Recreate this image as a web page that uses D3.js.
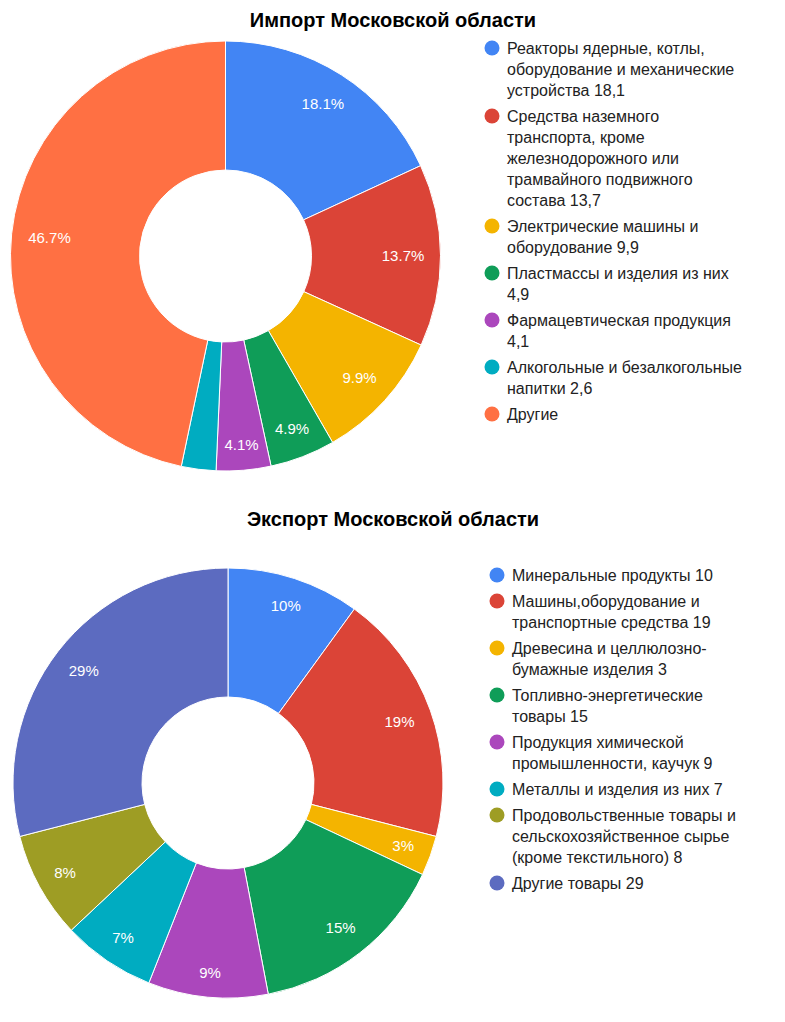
<!DOCTYPE html>
<html>
<head>
<meta charset="utf-8">
<script src="https://cdn.jsdelivr.net/npm/d3@7"></script>
<style>
  body { margin: 0; background: white; }
  text { font-family: Arial, "Liberation Sans", sans-serif; }
</style>
</head>
<body>
<div id="viz_area"></div>
<script>
var width = 785
var height = 1022

// data
var importTitle = "Импорт Московской области"
var importCategories = [
  "Реакторы ядерные, котлы, оборудование и механические устройства 18,1",
  "Средства наземного транспорта, кроме железнодорожного или трамвайного подвижного состава 13,7",
  "Электрические машины и оборудование 9,9",
  "Пластмассы и изделия из них 4,9",
  "Фармацевтическая продукция 4,1",
  "Алкогольные и безалкогольные напитки 2,6",
  "Другие"
]
var importValues = [18.1, 13.7, 9.9, 4.9, 4.1, 2.6, 46.7]
var importColors = ["#4285F4", "#DB4437", "#F4B400", "#0F9D58", "#AB47BC", "#00ACC1", "#FF7043"]

var exportTitle = "Экспорт Московской области"
var exportCategories = [
  "Минеральные продукты 10",
  "Машины,оборудование и транспортные средства 19",
  "Древесина и целлюлозно-бумажные изделия 3",
  "Топливно-энергетические товары 15",
  "Продукция химической промышленности, каучук 9",
  "Металлы и изделия из них 7",
  "Продовольственные товары и сельскохозяйственное сырье (кроме текстильного) 8",
  "Другие товары 29"
]
var exportValues = [10, 19, 3, 15, 9, 7, 8, 29]
var exportColors = ["#4285F4", "#DB4437", "#F4B400", "#0F9D58", "#AB47BC", "#00ACC1", "#9E9D24", "#5C6BC0"]

var svg = d3.select("#viz_area")
  .append("svg")
  .attr("width", width)
  .attr("height", height)
  .style("background-color", "white");

var pctFormat = d3.format(".1~f")

// split a label into lines no wider than maxW (breaks at spaces and after hyphens)
function wrapLines(measure, label, maxW) {
  let s = label.replace(/-/g, "-\u0000")
  let words = s.split(/ |\u0000/)
  let seps = []
  let re = / |\u0000/g, m
  while ((m = re.exec(s)) !== null) seps.push(m[0] == " " ? " " : "")
  let lines = [], cur = words[0]
  for (let i = 1; i < words.length; i++) {
    let test = cur + seps[i - 1] + words[i]
    measure.text(test)
    if (measure.node().getComputedTextLength() > maxW) {
      lines.push(cur)
      cur = words[i]
    } else {
      cur = test
    }
  }
  lines.push(cur)
  return lines
}

// is the point inside the slice angle range?
function inSlice(x, y, d) {
  let a = Math.atan2(x, -y)
  if (a < 0) a += 2 * Math.PI
  return a >= d.startAngle && a <= d.endAngle
}

function drawDonut(cfg) {
  let R = 215
  let pie = d3.pie().sort(null).value(d => d)
  let arcs = pie(cfg.values)
  let total = d3.sum(cfg.values)
  let arc = d3.arc().innerRadius(R * 0.4).outerRadius(R)

  svg.append("text")
    .attr("x", 393)
    .attr("y", cfg.titleY)
    .attr("text-anchor", "middle")
    .style("font-size", "20px")
    .style("font-weight", "bold")
    .attr("fill", "black")
    .text(cfg.title)

  let g = svg.append("g")
    .attr("transform", `translate(${cfg.cx},${cfg.cy})`)

  g.selectAll("path")
    .data(arcs)
    .enter()
    .append("path")
    .attr("d", arc)
    .attr("fill", (d, i) => cfg.colors[i])
    .attr("stroke", "white")
    .attr("stroke-width", 1)

  // slice labels: on the middle angle, pushed out until the far corner of the box is at R - 16
  let labels = g.selectAll(".slice-label")
    .data(arcs)
    .enter()
    .append("text")
    .attr("class", "slice-label")
    .attr("text-anchor", "middle")
    .attr("dy", "0.35em")
    .style("font-size", "15px")
    .attr("fill", "white")
    .text(d => pctFormat(d.value / total * 100) + "%")

  labels.each(function (d) {
    let w = this.getComputedTextLength(), h = 15
    let a = (d.startAngle + d.endAngle) / 2
    let ux = Math.sin(a), uy = -Math.cos(a)
    let lo = 0, hi = R
    for (let k = 0; k < 40; k++) {
      let r = (lo + hi) / 2
      let fx = Math.abs(r * ux) + w / 2, fy = Math.abs(r * uy) + h / 2
      if (Math.sqrt(fx * fx + fy * fy) > R - 16) hi = r; else lo = r
    }
    let x = lo * ux, y = lo * uy
    let fits = [[-1, -1], [1, -1], [-1, 1], [1, 1]]
      .every(c => inSlice(x + c[0] * w / 2, y + c[1] * h / 2, d))
    d3.select(this).attr("x", x).attr("y", y)
      .style("display", fits ? null : "none")
  })

  // legend
  let lg = svg.append("g")
  let measure = lg.append("text").style("font-size", "16px")
  let y = cfg.legendY
  cfg.categories.forEach(function (c, i) {
    let lines = wrapLines(measure, c, cfg.legendW)
    lg.append("circle")
      .attr("cx", cfg.legendX)
      .attr("cy", y)
      .attr("r", 7.5)
      .attr("fill", cfg.colors[i])
    let t = lg.append("text")
      .attr("x", cfg.legendX + 15)
      .attr("y", y)
      .style("font-size", "16px")
      .attr("fill", "#222222")
    lines.forEach(function (l, j) {
      t.append("tspan")
        .attr("x", cfg.legendX + 15)
        .attr("dy", j == 0 ? "0.35em" : 21)
        .text(l)
    })
    y += lines.length * 21 + 5
  })
  measure.remove()
}

drawDonut({
  title: importTitle, titleY: 27, categories: importCategories, values: importValues,
  colors: importColors, cx: 225.5, cy: 256, legendX: 492, legendY: 48, legendW: 237
})

drawDonut({
  title: exportTitle, titleY: 526, categories: exportCategories, values: exportValues,
  colors: exportColors, cx: 228, cy: 783, legendX: 497, legendY: 575, legendW: 228
})
</script>
</body>
</html>
